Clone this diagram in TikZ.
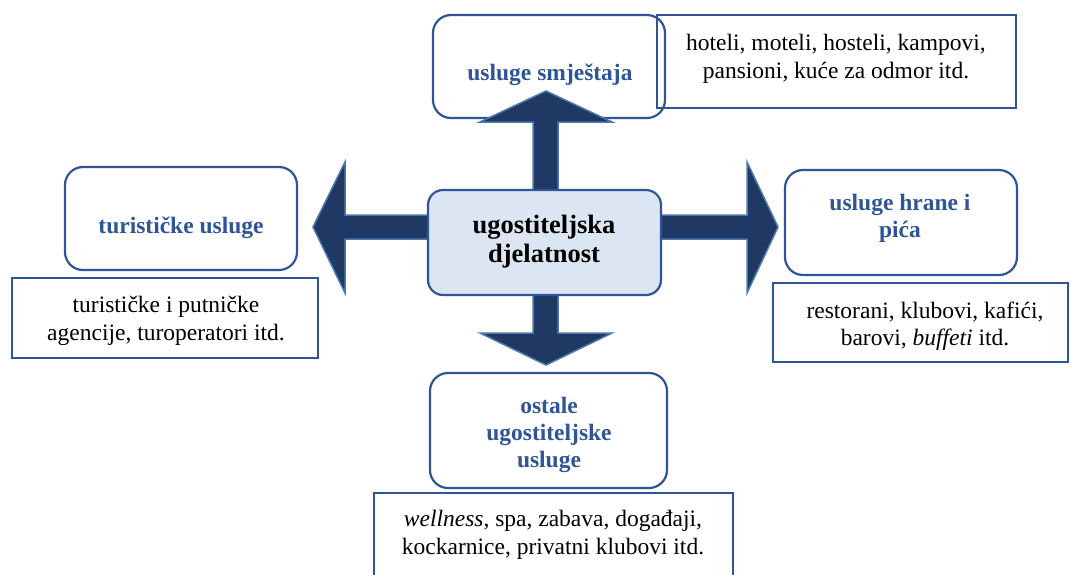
\documentclass[tikz,border=0pt]{standalone}
\usepackage{fontspec}
\setmainfont{Liberation Serif}
\definecolor{boxline}{HTML}{2F5597}
\definecolor{labelblue}{HTML}{2F5597}
\definecolor{arrowfill}{HTML}{1F3864}
\definecolor{arrowline}{HTML}{4A78AC}
\definecolor{centerfill}{HTML}{DCE6F2}
\begin{document}
\begin{tikzpicture}[x=1pt,y=-1pt,
  rbox/.style={draw=boxline,line width=2.2pt,rounded corners=18pt,fill=white},
  tbox/.style={draw=boxline,line width=2.2pt},
  blockarrow/.style={fill=arrowfill,draw=arrowline,line width=1.5pt,line join=miter},
  lbl/.style={inner sep=0pt,align=center,text=labelblue,font=\fontsize{23.5}{27}\selectfont\bfseries},
  txt/.style={inner sep=0pt,align=center,text=black,font=\fontsize{23.5}{27.5}\selectfont},
  ctxt/.style={inner sep=0pt,align=center,text=black,font=\fontsize{26.5}{29}\selectfont\bfseries}]
\useasboundingbox (0,0) rectangle (1071,574);
\clip (0,0) rectangle (1071,574);
% rounded label boxes
\draw[rbox] (433,15) rectangle (665,118);
\draw[tbox] (657,15) rectangle (1016,108);
\draw[rbox] (65,167) rectangle (297,270);
\draw[tbox] (12,278) rectangle (318,358);
\draw[rbox] (785,170) rectangle (1017,275);
\draw[tbox] (773,283) rectangle (1068,362);
\draw[rbox] (430,373) rectangle (667,488);
\draw[tbox] (374,493) rectangle (733,600);
% block arrows
\draw[blockarrow] (546,91) -- (612,122) -- (558,122) -- (558,333) -- (612,333) -- (546,365)
  -- (480,333) -- (533,333) -- (533,122) -- (480,122) -- cycle;
\draw[blockarrow] (313,227) -- (345,162) -- (345,215) -- (747,215) -- (747,162) -- (778,227)
  -- (747,293) -- (747,239) -- (345,239) -- (345,293) -- cycle;
% centre box
\draw[draw=boxline,line width=2.2pt,rounded corners=15pt,fill=centerfill] (428,190) rectangle (661,295);
% texts
\node[ctxt] (centre) at (544,242) {ugostiteljska\\djelatnost};
\node[lbl] (smjestaj) at (550,75) {usluge smještaja};
\node[txt] (smjestajtxt) at (836,59) {hoteli, moteli, hosteli, kampovi,\\pansioni, kuće za odmor itd.};
\node[lbl] (turist) at (181,228) {turističke usluge};
\node[txt] (turisttxt) at (166,321) {turističke i putničke\\agencije, turoperatori itd.};
\node[lbl] (hrana) at (900,218) {usluge hrane i\\pića};
\node[txt] (hranatxt) at (925,326) {restorani, klubovi, kafići,\\barovi, \textit{buffeti} itd.};
\node[lbl] (ostale) at (549,435) {ostale\\ugostiteljske\\usluge};
\node[txt] (ostaletxt) at (553,535) {\textit{wellness}, spa, zabava, događaji,\\kockarnice, privatni klubovi itd.};
\end{tikzpicture}
\end{document}
